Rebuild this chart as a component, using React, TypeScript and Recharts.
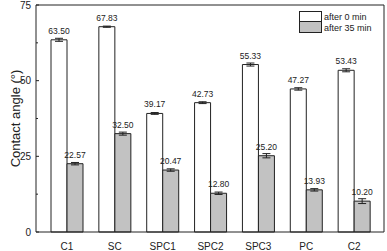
import React from "react";
import { BarChart, Bar, XAxis, YAxis, ErrorBar, LabelList, ReferenceLine } from "recharts";

const categories = ["C1", "SC", "SPC1", "SPC2", "SPC3", "PC", "C2"];
const after0 = [63.5, 67.83, 39.17, 42.73, 55.33, 47.27, 53.43];
const after35 = [22.57, 32.5, 20.47, 12.8, 25.2, 13.93, 10.2];
const err0 = [0.5, 0.2, 0.3, 0.3, 0.5, 0.4, 0.5];
const err35 = [0.4, 0.5, 0.4, 0.4, 0.7, 0.4, 0.8];
const yTicks = [0, 12.5, 25, 37.5, 50, 62.5, 75];
const seriesNames = ["after 0 min", "after 35 min"];

const FONT = "Arial, 'Liberation Sans', sans-serif";
const INK = "#222";
const GRAY = "#c2c2c2";

const data = categories.map((name, i) => ({
  name,
  after0: after0[i],
  after35: after35[i],
  err0: err0[i],
  err35: err35[i],
}));

const LeftTick = (props: any) => {
  const { x, y, payload } = props;
  const major = payload.value % 25 === 0;
  return (
    <g>
      <line x1={x} x2={x + (major ? 3 : 2)} y1={y} y2={y} stroke={INK} />
      {major && (
        <text x={x - 5} y={y} dy="0.355em" textAnchor="end" fontSize={10} fontFamily={FONT} fill={INK}>
          {payload.value}
        </text>
      )}
    </g>
  );
};

const RightTick = (props: any) => {
  const { x, y, payload } = props;
  const major = payload.value % 25 === 0;
  return <line x1={x - (major ? 3 : 2)} x2={x} y1={y} y2={y} stroke={INK} />;
};

// legend drawn as an overlay so it doesn't steal plot space
const LegendBox = () => (
  <svg width={86} height={24} style={{ position: "absolute", left: 299, top: 11 }}>
    <rect x={0.5} y={0.5} width={22} height={10} fill="#fff" stroke={INK} />
    <rect x={0.5} y={10.5} width={22} height={11} fill={GRAY} stroke={INK} />
    <text x={25} y={8.8} fontSize={9} fontFamily={FONT} fill={INK}>{seriesNames[0]}</text>
    <text x={25} y={20.4} fontSize={9} fontFamily={FONT} fill={INK}>{seriesNames[1]}</text>
  </svg>
);

const labelStyle = { fontSize: 8.5, fontFamily: FONT, fill: INK };

export default function App() {
  return (
    <div style={{ position: "absolute", left: 0, top: 0, width: 387, height: 251, background: "#fff" }}>
      <BarChart
        width={387}
        height={251}
        data={data}
        margin={{ top: 5, right: 0, bottom: 0, left: 0 }}
        barSize={16}
        barGap={0}
      >
        <XAxis
          dataKey="name"
          height={19}
          padding={{ left: 7, right: 6 }}
          tickLine={false}
          tickSize={0}
          tickMargin={11}
          axisLine={{ stroke: INK }}
          tick={{ fontSize: 10, fontFamily: FONT, fill: INK }}
          interval={0}
        />
        <YAxis
          yAxisId="left"
          width={36}
          domain={[0, 75]}
          ticks={yTicks}
          interval={0}
          tickSize={0}
          tickMargin={0}
          tickLine={false}
          axisLine={{ stroke: INK }}
          tick={<LeftTick />}
          label={{
            value: "Contact angle (°)",
            angle: -90,
            position: "insideLeft",
            dx: 10,
            style: { fontSize: 13, fontFamily: FONT, fill: INK, textAnchor: "middle" },
          }}
        />
        <YAxis
          yAxisId="right"
          orientation="right"
          width={3}
          domain={[0, 75]}
          ticks={yTicks}
          interval={0}
          tickSize={0}
          tickMargin={0}
          tickLine={false}
          axisLine={{ stroke: INK }}
          tick={<RightTick />}
        />
        <ReferenceLine yAxisId="left" y={75} stroke={INK} />
        <Bar yAxisId="left" dataKey="after0" name={seriesNames[0]} fill="#fff" stroke={INK} strokeWidth={1} isAnimationActive={false}>
          <ErrorBar dataKey="err0" width={4} stroke={INK} strokeWidth={1} direction="y" />
          <LabelList dataKey="after0" position="top" offset={6} formatter={(v: any) => Number(v).toFixed(2)} style={labelStyle} />
        </Bar>
        <Bar yAxisId="left" dataKey="after35" name={seriesNames[1]} fill={GRAY} stroke={INK} strokeWidth={1} isAnimationActive={false}>
          <ErrorBar dataKey="err35" width={4} stroke={INK} strokeWidth={1} direction="y" />
          <LabelList dataKey="after35" position="top" offset={6} formatter={(v: any) => Number(v).toFixed(2)} style={labelStyle} />
        </Bar>
      </BarChart>
      <LegendBox />
    </div>
  );
}
